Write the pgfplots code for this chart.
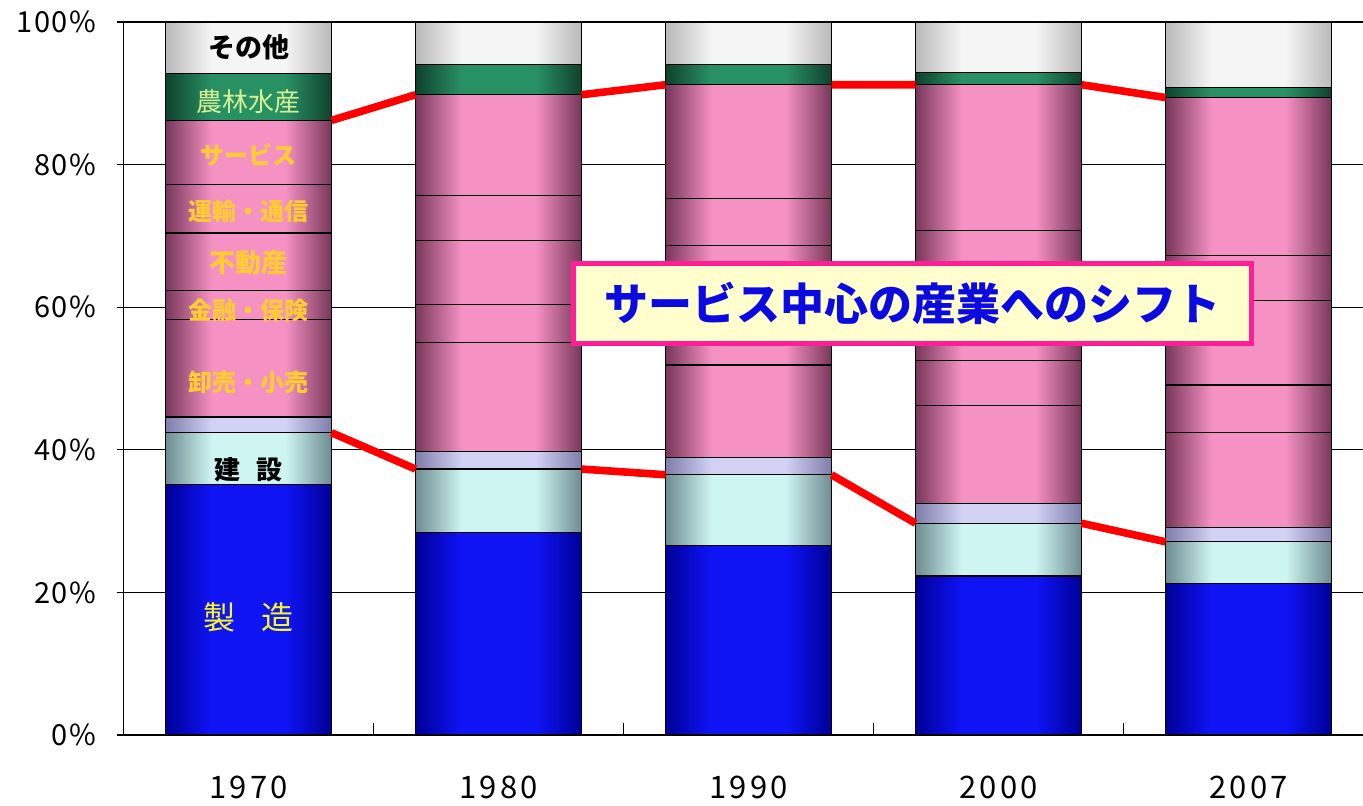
\documentclass[border=0pt]{standalone}
\usepackage{fontspec}
\setmainfont{Noto Sans CJK JP}
\usepackage{pgfplots}
\pgfplotsset{compat=1.18}
\usepackage{pgfplotstable}

\definecolor{mfgD}{RGB}{0,0,150}
\definecolor{mfgL}{RGB}{15,20,245}
\definecolor{conD}{RGB}{110,140,145}
\definecolor{conL}{RGB}{205,245,242}
\definecolor{utlD}{RGB}{125,125,170}
\definecolor{utlL}{RGB}{210,210,245}
\definecolor{pnkD}{RGB}{120,55,90}
\definecolor{pnkL}{RGB}{245,145,195}
\definecolor{agrD}{RGB}{15,65,45}
\definecolor{agrL}{RGB}{40,145,100}
\definecolor{othD}{RGB}{185,185,185}
\definecolor{othL}{RGB}{245,245,245}
\definecolor{boxfill}{RGB}{255,255,205}
\definecolor{boxborder}{RGB}{255,30,150}
\definecolor{boxtext}{RGB}{10,10,225}
\definecolor{gold}{RGB}{255,205,50}
\definecolor{agrtext}{RGB}{215,240,150}
\definecolor{mfgtext}{RGB}{245,245,40}

% per-bar horizontal shading, repeating with the bar spacing
\newcommand\barshade[3]{%
\pgfdeclarefunctionalshading{#1}{\pgfpoint{-50bp}{-50bp}}{\pgfpoint{50bp}{50bp}}%
{\pgfshadecolortorgb{#2}{\cD}\pgfshadecolortorgb{#3}{\cL}}%
{pop 25 add 50 div 4.664 mul dup floor sub 0.664 div 2 mul 1 sub abs 1 exch sub 1.8 mul
dup 1 sub abs neg add 1 add 2 div dup abs add 2 div
dup \cLred\space \cDred\space sub mul \cDred\space add exch
dup \cLgreen\space \cDgreen\space sub mul \cDgreen\space add exch
\cLblue\space \cDblue\space sub mul \cDblue\space add}}
\barshade{shMfg}{mfgD}{mfgL}
\barshade{shCon}{conD}{conL}
\barshade{shUtl}{utlD}{utlL}
\barshade{shPnk}{pnkD}{pnkL}
\barshade{shAgr}{agrD}{agrL}
\barshade{shOth}{othD}{othL}

\pgfplotstableread{
x mfg con utl whl fin re trn svc agr oth
0 35.1 7.3 2.2 13.7 4.0 8.1 6.8 9.0 6.6 7.2
1 28.4 8.9 2.5 15.2 5.4 8.9 6.4 14.1 4.2 6.0
2 26.6 9.9 2.4 13.0 5.5 11.3 6.5 16.0 2.8 6.0
3 22.3 7.4 2.8 13.7 6.3 11.5 6.8 20.4 1.7 7.1
4 21.2 5.9 2.0 13.3 6.7 11.8 6.4 22.1 1.4 9.2
}\shares

\begin{document}
\begin{tikzpicture}
\path[use as bounding box] (-61.75pt,-35pt) rectangle (619.75pt,367.5pt);
\begin{axis}[
  scale only axis, width=625pt, height=356.5pt,
  xmin=-0.5, xmax=4.5, ymin=0, ymax=100,
  ybar stacked, bar width=0.664,
  xtick={0,1,2,3,4}, xticklabels={1970,1980,1990,2000,2007},
  minor xtick={0.5,1.5,2.5,3.5},
  ytick={0,20,40,60,80,100},
  yticklabels={0\%,20\%,40\%,60\%,80\%,100\%},
  tick pos=left, tick align=inside,
  major tick length=3pt, minor tick length=6pt,
  major x tick style={draw=none},
  minor x tick style={draw=black, line width=0.6pt},
  major y tick style={draw=black, line width=0.6pt, xshift=-3pt},
  ymajorgrids, grid style={black, line width=0.6pt},
  axis line style={black, line width=0.8pt},
  yticklabel style={font=\fontsize{14.5}{17}\selectfont\addfontfeatures{LetterSpace=6}, text=black, xshift=-10pt},
  xticklabel style={font=\fontsize{15.5}{18}\selectfont\addfontfeatures{LetterSpace=10}, text=black, yshift=-17pt},
]
\addplot[draw=black, line width=0.6pt, shade, shading=shMfg] table[x=x,y=mfg]{\shares};
\addplot[draw=black, line width=0.6pt, shade, shading=shCon] table[x=x,y=con]{\shares};
\addplot[draw=black, line width=0.6pt, shade, shading=shUtl] table[x=x,y=utl]{\shares};
\addplot[draw=black, line width=0.6pt, shade, shading=shPnk] table[x=x,y=whl]{\shares};
\addplot[draw=black, line width=0.6pt, shade, shading=shPnk] table[x=x,y=fin]{\shares};
\addplot[draw=black, line width=0.6pt, shade, shading=shPnk] table[x=x,y=re]{\shares};
\addplot[draw=black, line width=0.6pt, shade, shading=shPnk] table[x=x,y=trn]{\shares};
\addplot[draw=black, line width=0.6pt, shade, shading=shPnk] table[x=x,y=svc]{\shares};
\addplot[draw=black, line width=0.6pt, shade, shading=shAgr] table[x=x,y=agr]{\shares};
\addplot[draw=black, line width=0.6pt, shade, shading=shOth] table[x=x,y=oth]{\shares};
\end{axis}
\begin{axis}[
  scale only axis, width=625pt, height=356.5pt,
  xmin=-0.5, xmax=4.5, ymin=0, ymax=100,
  hide axis, clip=false,
]
\addplot[red, line width=3.8pt, unbounded coords=jump, line cap=butt] coordinates {
(0.332,86.2) (0.668,89.8) (1,nan) (1.332,89.8) (1.668,91.2) (2,nan)
(2.332,91.2) (2.668,91.2) (3,nan) (3.332,91.2) (3.668,89.4)};
\addplot[red, line width=3.8pt, unbounded coords=jump, line cap=butt] coordinates {
(0.332,42.4) (0.668,37.3) (1,nan) (1.332,37.3) (1.668,36.5) (2,nan)
(2.332,36.5) (2.668,29.7) (3,nan) (3.332,29.7) (3.668,27.1)};
\node[font=\bfseries\fontsize{13.5}{16}\selectfont, text=black] at (axis cs:0,96.5) {その他};
\node[font=\fontsize{13}{16}\selectfont, text=agrtext] at (axis cs:0,88.9) {農林水産};
\node[font=\bfseries\fontsize{12}{15}\selectfont, text=gold] at (axis cs:0,81.3) {サービス};
\node[font=\bfseries\fontsize{12}{15}\selectfont, text=gold] at (axis cs:0,73.5) {運輸・通信};
\node[font=\bfseries\fontsize{13}{15}\selectfont, text=gold] at (axis cs:0,66.3) {不動産};
\node[font=\bfseries\fontsize{12}{15}\selectfont, text=gold] at (axis cs:0,59.6) {金融・保険};
\node[font=\bfseries\fontsize{12}{15}\selectfont, text=gold] at (axis cs:0,49.5) {卸売・小売};
\node[font=\bfseries\fontsize{13}{15}\selectfont, text=black] at (axis cs:0,37.2) {建\hspace{0.6em}設};
\node[font=\fontsize{16}{19}\selectfont, text=mfgtext] at (axis cs:0,16.5) {製\hspace{0.8em}造};
\node[fill=boxfill, draw=boxborder, line width=2.5pt, text=boxtext,
      minimum width=339pt, minimum height=40pt, inner sep=0pt,
      font=\bfseries\fontsize{22}{26}\selectfont] at (axis cs:2.654,60.5) {サービス中心の産業へのシフト};
\end{axis}
\end{tikzpicture}
\end{document}
